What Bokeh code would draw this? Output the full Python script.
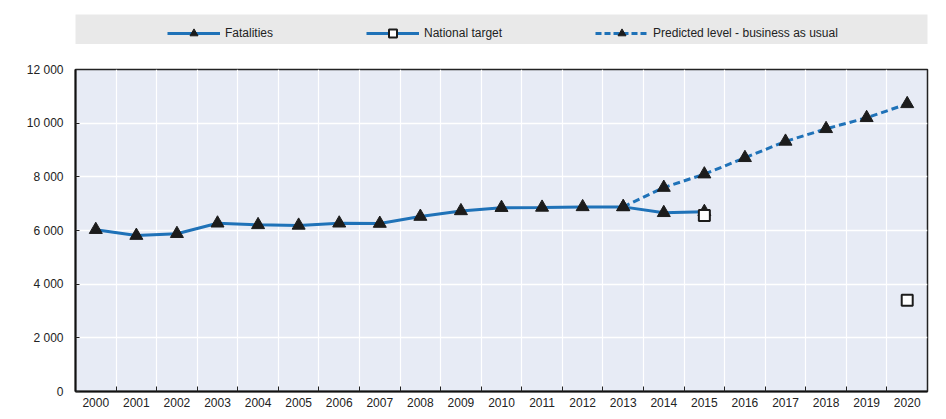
import numpy as np
from bokeh.plotting import figure
from bokeh.layouts import column
from bokeh.models import (ColumnDataSource, FixedTicker, Legend, LegendItem,
                          Range1d)
from bokeh.embed import file_html
from bokeh.resources import INLINE

# ---------------- data ----------------
years = [2000, 2001, 2002, 2003, 2004, 2005, 2006, 2007, 2008, 2009, 2010,
         2011, 2012, 2013, 2014, 2015, 2016, 2017, 2018, 2019, 2020]
year_labels = [str(y) for y in years]

fat_years = [2000, 2001, 2002, 2003, 2004, 2005, 2006, 2007, 2008, 2009,
             2010, 2011, 2012, 2013, 2014, 2015]
fatalities = [6030, 5810, 5880, 6270, 6210, 6190, 6270, 6260, 6520, 6730,
              6850, 6860, 6880, 6880, 6660, 6700]

pred_years = [2013, 2014, 2015, 2016, 2017, 2018, 2019, 2020]
predicted = [6880, 7600, 8100, 8710, 9320, 9790, 10200, 10720]

target_years = [2015, 2020]
target = [6560, 3400]

y_ticks = [0, 2000, 4000, 6000, 8000, 10000, 12000]
y_tick_labels = ["0", "2 000", "4 000", "6 000", "8 000", "10 000", "12 000"]

series_names = ["Fatalities", "National target", "Predicted level - business as usual"]

# ---------------- style ----------------
FONT = "Liberation Sans, Arial, sans-serif"
BLUE = "#1f72b8"
MARK = "#1c1c1c"
BG = "#e7ebf5"
LEG_BG = "#e9e9e9"

# ---------------- main chart ----------------
p = figure(width=938, height=367, output_backend="svg", toolbar_location=None,
           x_range=Range1d(years[0] - 0.5, years[-1] + 0.5),
           y_range=Range1d(y_ticks[0], y_ticks[-1]),
           min_border_left=73, min_border_right=11,
           min_border_top=25, min_border_bottom=20)
p.background_fill_color = BG
p.border_fill_color = "white"
p.outline_line_color = "#222222"
p.outline_line_width = 1.5

boundaries = [y - 0.5 for y in years] + [years[-1] + 0.5]
p.xaxis.ticker = FixedTicker(ticks=years, minor_ticks=boundaries)
p.xaxis.major_label_overrides = {y: l for y, l in zip(years, year_labels)}
p.xaxis.major_tick_in = 0
p.xaxis.major_tick_out = 0
p.xaxis.minor_tick_in = 5
p.xaxis.minor_tick_out = 0
p.xaxis.minor_tick_line_color = "#222222"
p.xaxis.axis_line_color = "#111111"
p.xaxis.axis_line_width = 2
p.xaxis.major_label_standoff = 6

p.yaxis.ticker = FixedTicker(ticks=y_ticks)
p.yaxis.major_label_overrides = {t: l for t, l in zip(y_ticks, y_tick_labels)}
p.yaxis.major_tick_in = 4
p.yaxis.major_tick_out = 0
p.yaxis.minor_tick_line_color = None
p.yaxis.axis_line_color = "#111111"
p.yaxis.axis_line_width = 2
p.yaxis.major_tick_line_color = "#222222"
p.yaxis.major_label_standoff = 12

for ax in (p.xaxis, p.yaxis):
    ax.major_label_text_font = FONT
    ax.major_label_text_font_size = "12px"
    ax.major_label_text_color = "#222222"

p.xgrid.ticker = FixedTicker(ticks=boundaries)
p.xgrid.grid_line_color = "white"
p.xgrid.grid_line_width = 1.2
p.ygrid.ticker = FixedTicker(ticks=y_ticks)
p.ygrid.grid_line_color = "white"
p.ygrid.grid_line_width = 1.5

fat_src = ColumnDataSource(dict(x=fat_years, y=fatalities))
pred_src = ColumnDataSource(dict(x=pred_years, y=predicted))
tgt_src = ColumnDataSource(dict(x=target_years, y=target))

p.line("x", "y", source=pred_src, line_color=BLUE, line_width=3, line_dash="7 4")
p.line("x", "y", source=fat_src, line_color=BLUE, line_width=3)
p.scatter("x", "y", source=pred_src, marker="triangle", size=13,
          fill_color=MARK, line_color=MARK)
p.scatter("x", "y", source=fat_src, marker="triangle", size=13,
          fill_color=MARK, line_color=MARK)
p.scatter("x", "y", source=tgt_src, marker="square", size=11,
          fill_color="white", line_color=MARK, line_width=2)

# ---------------- legend strip ----------------
lg = figure(width=938, height=44, output_backend="svg", toolbar_location=None,
            x_range=Range1d(0, 1), y_range=Range1d(0, 1),
            x_axis_type=None, y_axis_type=None,
            min_border_left=75, min_border_right=9,
            min_border_top=14, min_border_bottom=0)
lg.background_fill_color = LEG_BG
lg.border_fill_color = "white"
lg.outline_line_color = None
lg.grid.visible = False

nan_src = ColumnDataSource(dict(x=np.array([np.nan]), y=np.array([np.nan])))
l_fat = lg.line("x", "y", source=nan_src, line_color=BLUE, line_width=3)
m_fat = lg.scatter("x", "y", source=nan_src, marker="triangle", size=13,
                   fill_color=MARK, line_color=MARK)
l_tgt = lg.line("x", "y", source=nan_src, line_color=BLUE, line_width=3)
m_tgt = lg.scatter("x", "y", source=nan_src, marker="square", size=10,
                   fill_color="white", line_color=MARK, line_width=2)
l_pred = lg.line("x", "y", source=nan_src, line_color=BLUE, line_width=3,
                 line_dash="6 3")
m_pred = lg.scatter("x", "y", source=nan_src, marker="triangle", size=13,
                    fill_color=MARK, line_color=MARK)

legend = Legend(items=[
    LegendItem(label=series_names[0], renderers=[l_fat, m_fat]),
    LegendItem(label=series_names[1], renderers=[l_tgt, m_tgt]),
    LegendItem(label=series_names[2], renderers=[l_pred, m_pred]),
], orientation="horizontal", location=(92, 1),
    glyph_width=53, glyph_height=20, label_standoff=5, label_width=10,
    spacing=93, padding=4, margin=0,
    background_fill_alpha=0, border_line_color=None,
    label_text_font=FONT, label_text_font_size="12px",
    label_text_color="#222222")
lg.add_layout(legend, "center")

layout = column(lg, p, spacing=0)
open("out.html", "w").write(file_html(layout, INLINE))
